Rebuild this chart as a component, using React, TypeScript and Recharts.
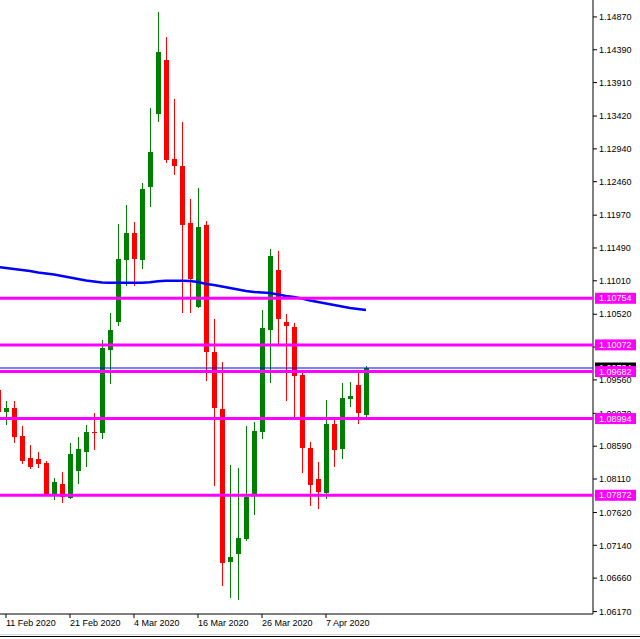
import { ComposedChart, Bar, Line, XAxis, YAxis, ReferenceLine } from "recharts";

const FONT = '"Liberation Sans", Arial, sans-serif';

// daily EURUSD candles, 10 Feb 2020 .. 14 Apr 2020 (weekdays)
const opens = [
  1.09412, 1.0909, 1.09149, 1.08739, 1.08417, 1.08403, 1.08344, 1.07891, 1.08037, 1.07832,
  1.08227, 1.08505, 1.08798, 1.08783, 1.09997, 1.10407, 1.11314, 1.11709, 1.11314, 1.12382,
  1.1345, 1.1424, 1.12792, 1.12689, 1.11856, 1.10627, 1.11826, 1.09968, 1.09134, 1.06896,
  1.07013, 1.07232, 1.07891, 1.08798, 1.1029, 1.11168, 1.10407, 1.10334, 1.09632, 1.08564,
  1.0811, 1.07905, 1.08915, 1.08549, 1.09281, 1.09485, 1.09047,
];
const highs = [
  1.09471, 1.09251, 1.09251, 1.08886, 1.08608, 1.08505, 1.08373, 1.08125, 1.08213, 1.08637,
  1.08725, 1.089, 1.09076, 1.10144, 1.10539, 1.11841, 1.12119, 1.1187, 1.12441, 1.13538,
  1.14942, 1.14577, 1.1367, 1.13333, 1.12207, 1.12368, 1.11885, 1.10451, 1.09822, 1.08315,
  1.08271, 1.08886, 1.08944, 1.10583, 1.11475, 1.11446, 1.10524, 1.10393, 1.09661, 1.08652,
  1.08359, 1.09266, 1.09017, 1.09515, 1.09529, 1.09661, 1.09763,
];
const lows = [
  1.09032, 1.089, 1.08637, 1.0833, 1.08257, 1.08271, 1.07862, 1.07803, 1.07759, 1.07818,
  1.08037, 1.08286, 1.08534, 1.08695, 1.095, 1.10349, 1.10934, 1.10934, 1.11183, 1.1209,
  1.13333, 1.12733, 1.12558, 1.10539, 1.10539, 1.10612, 1.09544, 1.08008, 1.06545, 1.06369,
  1.0634, 1.07203, 1.07584, 1.08695, 1.09515, 1.10085, 1.09251, 1.09017, 1.08198, 1.07715,
  1.07671, 1.07818, 1.08286, 1.08403, 1.09164, 1.08915, 1.09003,
];
const closes = [
  1.0909, 1.09149, 1.08725, 1.08373, 1.08286, 1.0833, 1.07876, 1.08066, 1.07847, 1.08476,
  1.08549, 1.08798, 1.08783, 1.10027, 1.1029, 1.11329, 1.11709, 1.11329, 1.12353, 1.12894,
  1.14357, 1.12777, 1.12689, 1.11826, 1.11036, 1.11797, 1.09968, 1.09149, 1.06881, 1.06969,
  1.07247, 1.07847, 1.08812, 1.10319, 1.11373, 1.10451, 1.10349, 1.09617, 1.08564, 1.08022,
  1.0792, 1.08915, 1.08534, 1.09295, 1.09325, 1.09076, 1.09734,
];
const ma = [
  1.11212, 1.11197, 1.11182, 1.11168, 1.11153, 1.11131, 1.11117, 1.11102, 1.1108, 1.11058,
  1.11036, 1.11014, 1.10999, 1.10985, 1.10982, 1.10982, 1.10982, 1.10982, 1.10982, 1.10988,
  1.11004, 1.11011, 1.11011, 1.11011, 1.11007, 1.10992, 1.10963, 1.10948, 1.10926, 1.10905,
  1.10883, 1.10861, 1.10846, 1.10839, 1.10832, 1.1081, 1.10788, 1.10773, 1.10751, 1.10722,
  1.107, 1.10678, 1.10656, 1.10634, 1.10612, 1.10597, 1.10583,
];

const xTicks = [1, 9, 17, 25, 33, 41];
const xTickLabels = ["11 Feb 2020", "21 Feb 2020", "4 Mar 2020", "16 Mar 2020", "26 Mar 2020", "7 Apr 2020"];
const yTicks = [
  1.1487, 1.1439, 1.1391, 1.1342, 1.1294, 1.1246, 1.1197, 1.1149, 1.1101, 1.1052,
  1.1004, 1.0956, 1.0907, 1.0859, 1.0811, 1.0762, 1.0714, 1.0666, 1.0617,
];
const levels = [1.10754, 1.10072, 1.09682, 1.08994, 1.07872];

const X_DOMAIN = [0.25, 74.375];
const Y_DOMAIN = [1.06135, 1.15118];

const data = opens.map((o, i) => ({
  i,
  open: o,
  high: highs[i],
  low: lows[i],
  close: closes[i],
  ma: ma[i],
}));
const lastClose = closes[closes.length - 1];

function Candle(props: any) {
  const { x, y, width, height, payload } = props;
  const { open, close, high, low } = payload;
  const top = Math.min(y, y + height);
  const h = Math.abs(height);
  const k = h / (high - low);
  const yOf = (v: number) => top + (high - v) * k;
  const cx = Math.round(x + width / 2);
  const color = close >= open ? "#008000" : "#ff0000";
  const bTop = Math.round(yOf(Math.max(open, close)));
  const bBot = Math.round(yOf(Math.min(open, close)));
  return (
    <g shapeRendering="crispEdges">
      <line x1={cx + 0.5} x2={cx + 0.5} y1={Math.round(top)} y2={Math.round(top + h)} stroke={color} strokeWidth={1} />
      <rect x={cx - 2} y={bTop} width={5} height={Math.max(1, bBot - bTop)} fill={color} />
    </g>
  );
}

function DateTick(props: any) {
  const { x, y, payload } = props;
  const idx = xTicks.indexOf(payload.value);
  return (
    <text x={x} y={y} dy="0.71em" textAnchor="start" fontSize={9} fontFamily={FONT} fill="#000">
      {xTickLabels[idx]}
    </text>
  );
}

function PriceTag({ viewBox, value, bg }: any) {
  if (!viewBox) return null;
  const x = viewBox.x + viewBox.width + 2;
  const y = viewBox.y;
  return (
    <g>
      <rect x={x} y={y - 5.5} width={41} height={11} fill={bg} />
      <text x={x + 4} y={y} dy="0.355em" fontSize={9} fontFamily={FONT} fill="#fff">
        {value.toFixed(5)}
      </text>
    </g>
  );
}

export default function App() {
  return (
    <div style={{ position: "absolute", left: 0, top: 0, width: 640, height: 639, background: "#fff" }}>
      <ComposedChart width={640} height={639} data={data} margin={{ top: 0, right: 0, bottom: 0, left: 0 }}>
        <XAxis
          type="number"
          dataKey="i"
          domain={X_DOMAIN}
          allowDataOverflow
          ticks={xTicks}
          interval={0}
          height={25}
          tickSize={4}
          tick={<DateTick />}
          axisLine={{ stroke: "#000" }}
          tickLine={{ stroke: "#000" }}
        />
        <YAxis
          orientation="right"
          type="number"
          domain={Y_DOMAIN}
          allowDataOverflow
          ticks={yTicks}
          interval={0}
          width={47}
          tickSize={4}
          tickFormatter={(v: number) => v.toFixed(5)}
          tick={{ fontSize: 9, fill: "#000", fontFamily: FONT }}
          axisLine={{ stroke: "#000" }}
          tickLine={{ stroke: "#000" }}
        />
        <Bar dataKey={(d: any) => [d.low, d.high]} shape={<Candle />} barSize={5} isAnimationActive={false} />
        <Line dataKey="ma" stroke="#0000ff" strokeWidth={2.5} dot={false} type="linear" isAnimationActive={false} />
      </ComposedChart>

      {/* overlay so level lines and price tags sit above the axis labels */}
      <div style={{ position: "absolute", left: 0, top: 0, pointerEvents: "none" }}>
        <ComposedChart width={640} height={639} data={data} margin={{ top: 0, right: 47, bottom: 25, left: 0 }}>
          <XAxis type="number" dataKey="i" domain={X_DOMAIN} allowDataOverflow hide />
          <YAxis type="number" domain={Y_DOMAIN} allowDataOverflow hide />
          <ReferenceLine
            y={lastClose}
            stroke="#0000ff"
            strokeWidth={1}
            label={(p: any) => <PriceTag viewBox={p.viewBox} value={lastClose} bg="#000" />}
          />
          {levels.map((lv) => (
            <ReferenceLine
              key={lv}
              y={lv}
              stroke="#ff00ff"
              strokeWidth={3}
              label={(p: any) => <PriceTag viewBox={p.viewBox} value={lv} bg="#ff00ff" />}
            />
          ))}
        </ComposedChart>
      </div>

      <div style={{ position: "absolute", left: 0, top: 634, width: 640, height: 1, background: "#d4d4d4" }} />
      <div style={{ position: "absolute", left: 0, top: 636, width: 640, height: 1, background: "#000" }} />
    </div>
  );
}
